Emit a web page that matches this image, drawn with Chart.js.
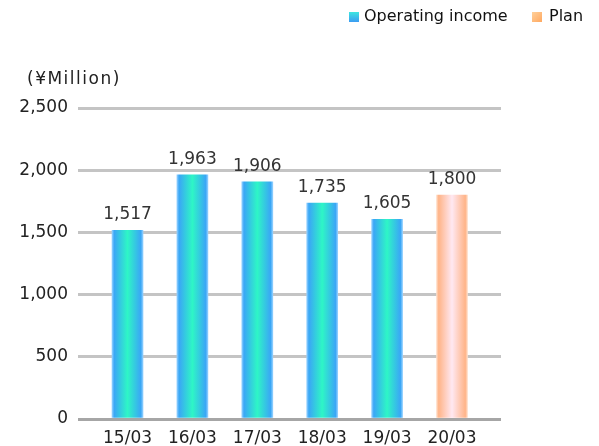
<!DOCTYPE html>
<html>
<head>
<meta charset="utf-8">
<script src="https://cdn.jsdelivr.net/npm/chart.js@4/dist/chart.umd.min.js"></script>
<style>
  html, body { margin: 0; padding: 0; background: #fff; }
  #wrap { width: 599px; height: 446px; position: relative; }
</style>
</head>
<body>
<div id="wrap"><canvas id="chart" width="599" height="446"></canvas></div>
<script>
const categories = ["15/03", "16/03", "17/03", "18/03", "19/03", "20/03"];
const incomeValues = [1517, 1963, 1906, 1735, 1605, null];
const planValues = [null, null, null, null, null, 1800];
const yTicks = [0, 500, 1000, 1500, 2000, 2500];

const FONT = "'DejaVu Sans', sans-serif";

// horizontal gradient across one bar
function barGradient(ctx, stops) {
  const chart = ctx.chart;
  if (!chart.chartArea) return stops[2][1];
  const cx = chart.scales.x.getPixelForValue(ctx.dataIndex);
  const g = chart.ctx.createLinearGradient(cx - 15.5, 0, cx + 15.5, 0);
  stops.forEach(s => g.addColorStop(s[0], s[1]));
  return g;
}

const blueStops = [[0, "#92d0ff"], [0.07, "#3aa6f6"], [0.5, "#2ef6c6"], [0.93, "#3aa6f6"], [1, "#92d0ff"]];
const peachStops = [[0, "#ffdcc6"], [0.07, "#ffb488"], [0.5, "#ffe8f2"], [0.93, "#ffb488"], [1, "#ffdcc6"]];

// value labels, axis title and legend
const extras = {
  id: "extras",
  afterDatasetsDraw(chart) {
    const c = chart.ctx;
    c.save();
    c.fillStyle = "#333";
    c.font = "17px " + FONT;
    c.textAlign = "center";
    c.textBaseline = "bottom";
    chart.data.datasets.forEach((ds, di) => {
      chart.getDatasetMeta(di).data.forEach((bar, i) => {
        const v = ds.data[i].y;
        if (v == null) return;
        c.fillText(v.toLocaleString("en-US"), bar.x, bar.y - 7);
      });
    });

    c.fillStyle = "#222";
    c.textAlign = "left";
    c.textBaseline = "middle";
    c.font = "17px " + FONT;
    c.letterSpacing = "1.5px";
    c.fillText("(\u00a5Million)", 27, 80);
    c.letterSpacing = "0px";

    // legend
    c.font = "16px " + FONT;
    let g = c.createLinearGradient(0, 12, 0, 22);
    g.addColorStop(0, "#3ee6e0");
    g.addColorStop(1, "#3c9cf2");
    c.fillStyle = g;
    c.fillRect(349, 12, 10, 10);
    c.fillStyle = "#111";
    c.fillText("Operating income", 364, 17);
    g = c.createLinearGradient(532, 12, 542, 22);
    g.addColorStop(0, "#ffd09a");
    g.addColorStop(1, "#ffa860");
    c.fillStyle = g;
    c.fillRect(532, 12, 10, 10);
    c.fillStyle = "#111";
    c.fillText("Plan", 549, 17);
    c.restore();
  }
};

new Chart(document.getElementById("chart"), {
  type: "bar",
  data: {
    datasets: [
      {
        label: "Operating income",
        data: incomeValues.map((v, i) => ({ x: i, y: v })),
        backgroundColor: ctx => barGradient(ctx, blueStops),
        barThickness: 31,
        grouped: false
      },
      {
        label: "Plan",
        data: planValues.map((v, i) => ({ x: i, y: v })),
        backgroundColor: ctx => barGradient(ctx, peachStops),
        barThickness: 31,
        grouped: false
      }
    ]
  },
  options: {
    responsive: false,
    animation: false,
    layout: { padding: { top: 108, right: 98, left: 0, bottom: 0 } },
    plugins: { legend: { display: false }, tooltip: { enabled: false } },
    scales: {
      x: {
        type: "linear",
        offset: false,
        min: -0.763,
        max: 5.755,
        grid: { display: false },
        border: { display: false },
        afterBuildTicks: scale => { scale.ticks = categories.map((c, i) => ({ value: i })); },
        afterFit: scale => { scale.height = 27; },
        ticks: {
          callback: v => categories[v],
          color: "#222",
          font: { family: FONT, size: 17 },
          padding: 1,
          maxRotation: 0,
          autoSkip: false
        }
      },
      y: {
        min: 0,
        max: 2500,
        afterBuildTicks: scale => { scale.ticks = yTicks.map(v => ({ value: v })); },
        afterFit: scale => { scale.width = 78; },
        border: { display: false },
        grid: {
          drawTicks: false,
          lineWidth: 3,
          color: ctx => ctx.tick && ctx.tick.value === 0 ? "#a6a6a6" : "#c4c4c4"
        },
        ticks: {
          callback: v => v.toLocaleString("en-US"),
          color: "#222",
          font: { family: FONT, size: 17 },
          padding: 10
        }
      }
    }
  },
  plugins: [extras]
});
</script>
</body>
</html>
